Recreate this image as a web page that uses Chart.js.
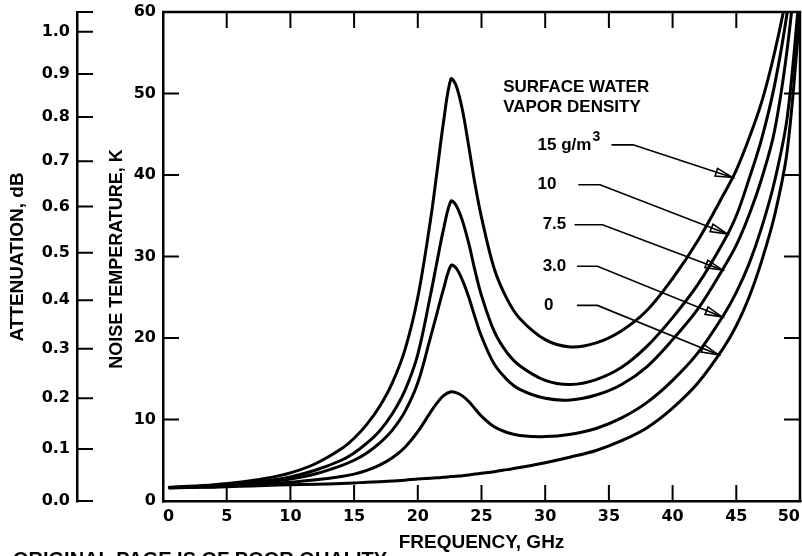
<!DOCTYPE html>
<html>
<head>
<meta charset="utf-8">
<script src="https://cdn.jsdelivr.net/npm/chart.js@4/dist/chart.umd.min.js"></script>
<style>
  html, body { margin: 0; padding: 0; background: #fff; }
  #wrap { width: 802px; height: 556px; position: relative; overflow: hidden; }
</style>
</head>
<body>
<div id="wrap"><canvas id="c" width="802" height="556"></canvas></div>
<script>
// Zenith sky noise temperature vs frequency for several surface water vapor densities
const frequencyGHz = [0.5, 2, 4, 6, 8, 10, 12, 14, 15, 16, 17, 18, 19, 20, 21, 21.5, 22, 22.6, 23, 23.5,
                      24, 24.5, 25, 26, 27, 28, 30, 32, 34, 36, 38, 40, 42, 44, 45, 46, 47, 48, 49, 50];

const noiseTemp15 = [1.7, 1.8, 2.0, 2.3, 2.75, 3.45, 4.6, 6.4, 7.7, 9.4, 11.6, 14.5, 18.6, 25.0, 34.5, 40.3, 46.3, 51.8, 51.0, 48.0,
                     43.5, 38.8, 34.8, 28.5, 24.8, 22.4, 19.8, 18.9, 19.4, 20.9, 23.4, 27.3, 32.0, 37.6, 40.6, 44.5, 49.0, 55.0, 62.5, 72.0];
const noiseTemp10 = [1.65, 1.75, 1.9, 2.15, 2.45, 2.95, 3.8, 5.0, 5.9, 7.1, 8.6, 10.7, 13.6, 18.0, 25.3, 29.3, 33.2, 36.8, 36.3, 34.4,
                     31.6, 28.2, 25.2, 20.8, 18.2, 16.6, 14.8, 14.3, 14.9, 16.4, 19.0, 22.5, 26.6, 31.8, 35.0, 39.5, 44.5, 51.0, 60.0, 72.0];
const noiseTemp7_5 = [1.65, 1.72, 1.85, 2.05, 2.3, 2.7, 3.35, 4.35, 5.0, 5.9, 7.1, 8.7, 11.0, 14.5, 20.1, 23.0, 25.9, 28.9, 28.6, 27.1,
                      25.0, 22.5, 20.2, 16.8, 14.9, 13.7, 12.6, 12.4, 13.0, 14.3, 16.5, 19.8, 23.6, 28.6, 31.4, 35.1, 39.6, 45.4, 55.5, 70.0];
const noiseTemp3_0 = [1.62, 1.68, 1.76, 1.9, 2.05, 2.3, 2.6, 3.0, 3.3, 3.75, 4.4, 5.3, 6.6, 8.5, 10.9, 12.0, 12.9, 13.4, 13.3, 12.9,
                      12.2, 11.3, 10.4, 9.1, 8.4, 8.05, 7.9, 8.2, 8.9, 10.2, 12.1, 14.8, 18.2, 22.8, 25.6, 29.1, 33.6, 39.2, 47.1, 63.0];
const noiseTemp0 = [1.6, 1.65, 1.7, 1.8, 1.9, 2.0, 2.05, 2.15, 2.22, 2.3, 2.35, 2.45, 2.55, 2.7, 2.8, 2.85, 2.9, 3.0, 3.05, 3.1,
                    3.2, 3.3, 3.4, 3.6, 3.85, 4.1, 4.7, 5.4, 6.2, 7.4, 9.0, 11.4, 14.5, 18.8, 21.5, 25.0, 29.5, 35.0, 43.0, 60.0];

const seriesTemps = [noiseTemp15, noiseTemp10, noiseTemp7_5, noiseTemp3_0, noiseTemp0];

// Axis ticks
const freqTicks = [0, 5, 10, 15, 20, 25, 30, 35, 40, 45, 50];
const noiseTicks = [0, 10, 20, 30, 40, 50, 60];
const attenTicksDb = [0.0, 0.1, 0.2, 0.3, 0.4, 0.5, 0.6, 0.7, 0.8, 0.9, 1.0];
const attenTickLabels = ['0.0', '0.1', '0.2', '0.3', '0.4', '0.5', '0.6', '0.7', '0.8', '0.9', '1.0'];
const physicalTempK = 280;   // equivalent absorber temperature linking dB to K

// Callouts: label text, label anchor (GHz, K), leader start / bend (GHz), arrow target (GHz)
const calloutLabels = ['15 g/m', '10', '7.5', '3.0', '0'];
const calloutLabelFreq = [29.4, 29.4, 29.8, 29.8, 29.9];
const calloutLabelTemp = [43.7, 38.8, 33.9, 28.8, 24.0];
const calloutStartFreq = [35.2, 32.6, 32.3, 32.5, 32.5];
const calloutBendFreq = [36.9, 34.3, 34.5, 34.1, 34.1];
const calloutTipFreq = [44.7, 44.3, 43.9, 43.9, 43.6];
const legendTitle = ['SURFACE WATER', 'VAPOR DENSITY'];
const legendTitleFreq = 26.7;
const legendTitleTemp = [50.7, 48.3];
const pageFooter = 'ORIGINAL PAGE IS OF POOR QUALITY';

const dbToKelvin = db => physicalTempK * (1 - Math.pow(10, -db / 10));

function tempAt(series, f) {
  for (let i = 1; i < frequencyGHz.length; i++) {
    if (f <= frequencyGHz[i]) {
      const f0 = frequencyGHz[i - 1], f1 = frequencyGHz[i];
      const t = (f - f0) / (f1 - f0);
      return series[i - 1] + t * (series[i] - series[i - 1]);
    }
  }
  return series[series.length - 1];
}

const TICK_FAMILY = 'DejaVu Sans';
const TEXT_FAMILY = 'Liberation Sans';
const tickFont = { family: TICK_FAMILY, size: 16, weight: 'bold' };

const decorations = {
  id: 'decorations',
  afterDraw(chart) {
    const { ctx, chartArea: a, scales } = chart;
    const xs = scales.x, ys = scales.y, ya = scales.y2;
    ctx.save();
    ctx.strokeStyle = '#000';
    ctx.fillStyle = '#000';
    ctx.lineCap = 'butt';

    // top and right frame lines
    ctx.lineWidth = 2.5;
    ctx.beginPath();
    ctx.moveTo(a.left - 1, a.top);
    ctx.lineTo(a.right, a.top);
    ctx.lineTo(a.right, a.bottom + 1);
    ctx.stroke();

    // inward tick marks
    ctx.lineWidth = 2;
    const L = 16;
    ctx.beginPath();
    freqTicks.forEach(v => {
      const px = xs.getPixelForValue(v);
      ctx.moveTo(px, a.bottom); ctx.lineTo(px, a.bottom - L);
      ctx.moveTo(px, a.top); ctx.lineTo(px, a.top + L);
    });
    noiseTicks.forEach(v => {
      const py = ys.getPixelForValue(v);
      ctx.moveTo(a.left, py); ctx.lineTo(a.left + L, py);
      ctx.moveTo(a.right, py); ctx.lineTo(a.right - L, py);
    });
    ya.ticks.forEach(t => {
      const py = ya.getPixelForValue(t.value);
      ctx.moveTo(ya.right, py); ctx.lineTo(ya.right + L, py);
    });
    const capY = ya.getPixelForValue(ya.max);
    ctx.moveTo(ya.right - 1, capY); ctx.lineTo(ya.right + L, capY);
    ctx.stroke();

    // axis titles
    ctx.textAlign = 'center';
    ctx.textBaseline = 'middle';
    ctx.font = `bold 19px "${TEXT_FAMILY}"`;
    ctx.fillText('FREQUENCY, GHz', (a.left + a.right) / 2, 543);
    const rot = (text, cx, cy) => {
      ctx.save(); ctx.translate(cx, cy); ctx.rotate(-Math.PI / 2);
      ctx.fillText(text, 0, 0); ctx.restore();
    };
    ctx.font = `bold 18px "${TEXT_FAMILY}"`;
    rot('NOISE TEMPERATURE, K', 117, 259);
    ctx.font = `bold 19px "${TEXT_FAMILY}"`;
    rot('ATTENUATION, dB', 18, 257);

    // page footer, cut by the lower edge
    ctx.textAlign = 'left';
    ctx.textBaseline = 'alphabetic';
    ctx.font = `bold 20px "${TEXT_FAMILY}"`;
    ctx.fillText(pageFooter, 13, 566);

    // callout block
    ctx.textBaseline = 'middle';
    ctx.font = `bold 17px "${TEXT_FAMILY}"`;
    legendTitle.forEach((s, i) => {
      ctx.fillText(s, xs.getPixelForValue(legendTitleFreq), ys.getPixelForValue(legendTitleTemp[i]));
    });
    ctx.lineWidth = 1.6;
    calloutLabels.forEach((s, i) => {
      const lx = xs.getPixelForValue(calloutLabelFreq[i]);
      const ly = ys.getPixelForValue(calloutLabelTemp[i]);
      ctx.font = `bold 17px "${TEXT_FAMILY}"`;
      ctx.fillText(s, lx, ly);
      if (i === 0) {
        const w = ctx.measureText(s).width;
        ctx.font = `bold 14px "${TEXT_FAMILY}"`;
        ctx.fillText('3', lx + w + 1, ly - 8);
      }
      const sx = xs.getPixelForValue(calloutStartFreq[i]);
      const bx = xs.getPixelForValue(calloutBendFreq[i]);
      const tf = calloutTipFreq[i];
      const tx = xs.getPixelForValue(tf);
      const ty = ys.getPixelForValue(tempAt(seriesTemps[i], tf));
      ctx.beginPath();
      ctx.moveTo(sx, ly); ctx.lineTo(bx, ly); ctx.lineTo(tx, ty);
      ctx.stroke();
      // open arrowhead
      const ang = Math.atan2(ty - ly, tx - bx);
      const hl = 17, hw = 4;
      const bxh = tx - hl * Math.cos(ang), byh = ty - hl * Math.sin(ang);
      ctx.beginPath();
      ctx.moveTo(tx, ty);
      ctx.lineTo(bxh + hw * Math.sin(ang), byh - hw * Math.cos(ang));
      ctx.lineTo(bxh - hw * Math.sin(ang), byh + hw * Math.cos(ang));
      ctx.closePath();
      ctx.stroke();
    });
    ctx.restore();
  }
};

const datasets = seriesTemps.map((temps, i) => ({
  label: calloutLabels[i],
  data: frequencyGHz.map((f, j) => ({ x: f, y: temps[j] })),
  borderColor: '#000',
  borderWidth: 3,
  pointRadius: 0,
  fill: false,
  tension: 0.35,
  borderJoinStyle: 'round',
  borderCapStyle: 'round'
}));

new Chart(document.getElementById('c'), {
  type: 'line',
  data: { datasets },
  options: {
    responsive: false,
    animation: false,
    devicePixelRatio: 1,
    events: [],
    layout: { padding: { top: 12, right: 2, left: 0, bottom: 0 } },
    plugins: { legend: { display: false }, tooltip: { enabled: false } },
    scales: {
      x: {
        type: 'linear', position: 'bottom', min: 0, max: 50,
        afterBuildTicks: s => { s.ticks = freqTicks.map(v => ({ value: v })); },
        ticks: { font: tickFont, color: '#000', padding: 6, align: 'inner', autoSkip: false, maxRotation: 0 },
        grid: { display: true, drawOnChartArea: false, drawTicks: false, color: '#000', lineWidth: 2.5 },
        border: { display: true, color: '#000', width: 2.5 },
        afterFit: s => { s.height = 55; s.paddingLeft = 0; s.paddingRight = 0; }
      },
      y: {
        type: 'linear', position: 'left', weight: 0, min: 0, max: 60,
        afterBuildTicks: s => { s.ticks = noiseTicks.map(v => ({ value: v })); },
        ticks: { font: tickFont, color: '#000', padding: 7, autoSkip: false },
        grid: { display: true, drawOnChartArea: false, drawTicks: false, color: '#000', lineWidth: 2.5 },
        border: { display: true, color: '#000', width: 2.5 },
        afterFit: s => { s.width = 86; s.paddingTop = 0; s.paddingBottom = 0; }
      },
      y2: {
        type: 'linear', position: 'left', weight: 1, min: 0, max: 60,
        afterBuildTicks: s => { s.ticks = attenTicksDb.map(db => ({ value: dbToKelvin(db) })); },
        ticks: {
          font: tickFont, color: '#000', padding: 7, autoSkip: false,
          callback: (v, i) => attenTickLabels[i]
        },
        grid: { display: true, drawOnChartArea: false, drawTicks: false, color: '#000', lineWidth: 2.5 },
        border: { display: true, color: '#000', width: 2.5 },
        afterFit: s => { s.width = 77; s.paddingTop = 0; s.paddingBottom = 0; }
      }
    }
  },
  plugins: [decorations]
});
</script>
</body>
</html>
